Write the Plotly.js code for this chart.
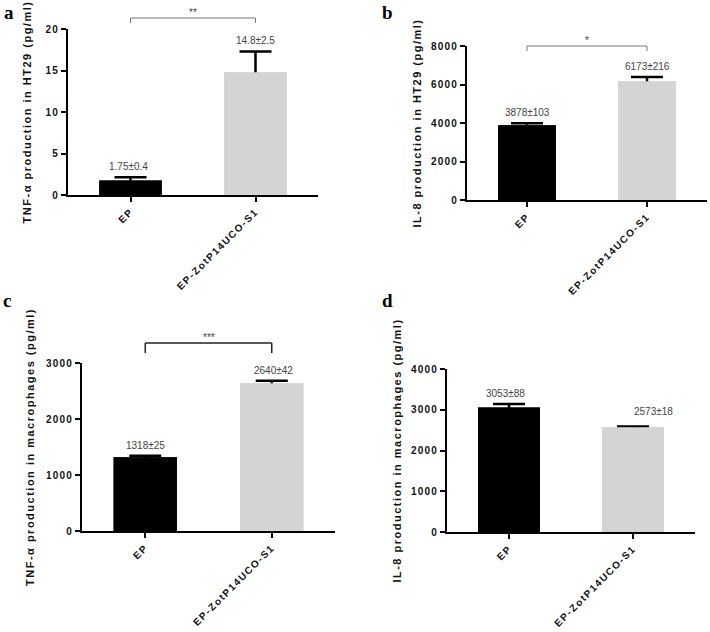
<!DOCTYPE html>
<html><head><meta charset="utf-8">
<script src="https://cdn.plot.ly/plotly-3.0.1.min.js"></script>
<style>
html,body{margin:0;padding:0;background:#fff}
#chart{width:710px;height:632px}
.xaxislayer-above text{letter-spacing:1.5px}
.yaxislayer-above text{letter-spacing:1.2px}
g[class^="g-y"] text, text.ytitle, text.y2title, text.y3title, text.y4title{letter-spacing:1.5px !important}
</style></head><body><div id="chart"></div>
<script>
// ---- data ----
const groups = ['EP', 'EP-ZotP14UCO-S1'];
const tnfHT29 = [1.75, 14.8];
const tnfHT29Err = [0.4, 2.5];
const il8HT29 = [3878, 6173];
const il8HT29Err = [103, 216];
const tnfMac = [1318, 2640];
const tnfMacErr = [25, 42];
const il8Mac = [3053, 2573];
const il8MacErr = [88, 18];
const yTitles = [
  'TNF-α production in HT29 (pg/ml)',
  'IL-8 production in HT29 (pg/ml)',
  'TNF-α production in macrophages (pg/ml)',
  'IL-8 production in macrophages (pg/ml)'
];
const yMax = [20, 8000, 3000, 4000];
const yStep = [5, 2000, 1000, 1000];
const significance = ['**', '*', '***', ''];
const panelLetters = ['a', 'b', 'c', 'd'];

// ---- layout helpers ----
const W = 710, H = 632;
const px = v => v / W;
const py = v => 1 - v / H;
const barColors = ['#000000', '#d4d4d4'];
const boldFont = {family: 'Liberation Sans, Arial, sans-serif', size: 10, color: '#111', weight: 700};

const panels = [
  {vals: tnfHT29, errs: tnfHT29Err, dx: [68, 318], dy: [195, 29], bw: 0.5, stand: 14,
   br: {top: 18, leg: 5, color: '#777', w: 1}, letter: [2, 0], lblShift: [[-2, 0], [0, 0]]},
  {vals: il8HT29, errs: il8HT29Err, dx: [467, 707], dy: [200, 46], bw: 0.48, stand: 12,
   br: {top: 46, leg: 5, color: '#777', w: 1}, letter: [380, 0], lblShift: [[0, 0], [0, 0]]},
  {vals: tnfMac, errs: tnfMacErr, dx: [82, 335], dy: [531, 363], bw: 0.5, stand: 14,
   br: {top: 343, leg: 10, color: '#222', w: 1.5}, letter: [1, 288], lblShift: [[0, 0], [2, 0]]},
  {vals: il8Mac, errs: il8MacErr, dx: [447, 695], dy: [532, 369], bw: 0.5, stand: 12,
   br: null, letter: [380, 288], lblShift: [[-4, 0], [20, 4]]}
];

const fmt = v => String(v);
const traces = [];
const layout = {
  width: W, height: H,
  margin: {l: 0, r: 0, t: 0, b: 0},
  paper_bgcolor: '#fff', plot_bgcolor: '#fff',
  showlegend: false, barmode: 'overlay',
  annotations: [], shapes: []
};

panels.forEach((p, i) => {
  const n = i === 0 ? '' : String(i + 1);
  const xa = 'x' + n, ya = 'y' + n;
  // whisker carrier (error bar from 0 up to mean+sd; lower part hidden by bar drawn on top)
  traces.push({
    type: 'bar', x: groups, y: p.vals, xaxis: xa, yaxis: ya, width: p.bw,
    marker: {color: barColors, line: {width: 0}},
    error_y: {type: 'data', symmetric: false, array: p.errs, arrayminus: p.vals,
              color: '#000', thickness: 2.5, width: 16},
    hoverinfo: 'skip'
  });
  traces.push({
    type: 'bar', x: groups, y: p.vals, xaxis: xa, yaxis: ya, width: p.bw,
    marker: {color: barColors, line: {width: 0}},
    hovertemplate: '%{x}: %{y}<extra></extra>'
  });
  layout['xaxis' + n] = {
    domain: [px(p.dx[0]), px(p.dx[1])], anchor: ya,
    type: 'category', categoryarray: groups, range: [-0.5, 1.5],
    showline: true, linecolor: '#000', linewidth: 2,
    ticks: 'outside', ticklen: 5, tickwidth: 2, tickcolor: '#000',
    tickangle: -45, tickfont: boldFont, showgrid: false, zeroline: false, fixedrange: true
  };
  layout['yaxis' + n] = {
    domain: [py(p.dy[0]), py(p.dy[1])], anchor: xa,
    range: [0, yMax[i]], tick0: 0, dtick: yStep[i],
    showline: true, linecolor: '#000', linewidth: 2,
    ticks: 'outside', ticklen: 5, tickwidth: 2, tickcolor: '#000',
    tickfont: boldFont, showgrid: false, zeroline: false, fixedrange: true,
    title: {text: yTitles[i], standoff: p.stand,
            font: {family: 'Liberation Sans, Arial, sans-serif', size: 11, color: '#111', weight: 700}}
  };
  // value labels
  p.vals.forEach((v, k) => {
    layout.annotations.push({
      xref: xa, yref: ya, x: k, y: v + p.errs[k],
      text: fmt(v) + '±' + fmt(p.errs[k]),
      showarrow: false, yanchor: 'bottom', xanchor: 'center',
      yshift: 3 + p.lblShift[k][1], xshift: p.lblShift[k][0],
      font: {family: 'Liberation Sans, Arial, sans-serif', size: 10, color: '#444'}
    });
  });
  // significance bracket
  if (p.br) {
    const yt = py(p.br.top), yb = py(p.br.top + p.br.leg);
    const line = {color: p.br.color, width: p.br.w};
    layout.shapes.push(
      {type: 'line', xref: xa, yref: 'paper', x0: 0, x1: 1, y0: yt, y1: yt, line},
      {type: 'line', xref: xa, yref: 'paper', x0: 0, x1: 0, y0: yt, y1: yb, line},
      {type: 'line', xref: xa, yref: 'paper', x0: 1, x1: 1, y0: yt, y1: yb, line}
    );
    layout.annotations.push({
      xref: xa, yref: 'paper', x: 0.5, y: yt, text: significance[i],
      showarrow: false, yanchor: 'bottom', yshift: -2,
      font: {family: 'Liberation Sans, Arial, sans-serif', size: 10, color: '#444'}
    });
  }
  // panel letter
  layout.annotations.push({
    xref: 'paper', yref: 'paper', x: px(p.letter[0]), y: py(p.letter[1]),
    xanchor: 'left', yanchor: 'top', text: '<b>' + panelLetters[i] + '</b>', showarrow: false,
    font: {family: 'Liberation Serif, Times New Roman, serif', size: 19, color: '#000'}
  });
});

Plotly.newPlot('chart', traces, layout, {displayModeBar: false, staticPlot: true});
</script></body></html>
